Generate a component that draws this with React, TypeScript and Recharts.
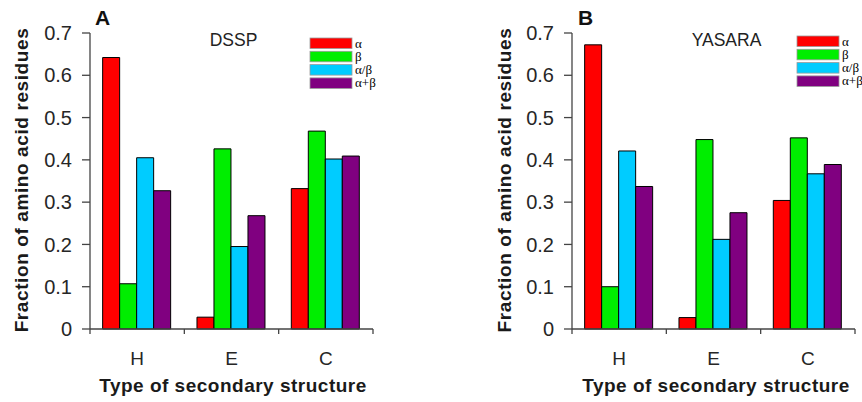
import React from 'react';
import { BarChart, Bar, XAxis, YAxis } from 'recharts';

const categories = ['H', 'E', 'C'];

const dsspAlpha = [0.642, 0.028, 0.332];
const dsspBeta = [0.107, 0.426, 0.468];
const dsspAlphaBeta = [0.405, 0.195, 0.402];
const dsspAlphaPlusBeta = [0.327, 0.268, 0.409];

const yasaraAlpha = [0.672, 0.027, 0.304];
const yasaraBeta = [0.1, 0.448, 0.452];
const yasaraAlphaBeta = [0.421, 0.212, 0.367];
const yasaraAlphaPlusBeta = [0.337, 0.275, 0.389];

const yTicks = [0, 0.1, 0.2, 0.3, 0.4, 0.5, 0.6, 0.7];

const seriesNames = ['α', 'β', 'α/β', 'α+β'];
const seriesKeys = ['alpha', 'beta', 'alphaBeta', 'alphaPlusBeta'];
const seriesColors = ['#ff0000', '#00ee00', '#00ccff', '#800080'];

const FONT = 'Arial, "Liberation Sans", Helvetica, sans-serif';
const AXIS = '#444';

function buildRows(a: number[], b: number[], ab: number[], apb: number[]) {
  return categories.map((cat, i) => ({
    cat,
    alpha: a[i],
    beta: b[i],
    alphaBeta: ab[i],
    alphaPlusBeta: apb[i],
  }));
}

const dsspData = buildRows(dsspAlpha, dsspBeta, dsspAlphaBeta, dsspAlphaPlusBeta);
const yasaraData = buildRows(yasaraAlpha, yasaraBeta, yasaraAlphaBeta, yasaraAlphaPlusBeta);

// category label in the middle, tick marks on the band edges
const CategoryTick = (props: any) => {
  const { x, y, payload, index, visibleTicksCount } = props;
  const half = payload.offset ?? 0;
  return (
    <g>
      <line x1={x - half} x2={x - half} y1={y} y2={y + 5} stroke={AXIS} strokeWidth={1.3} />
      {index === visibleTicksCount - 1 && (
        <line x1={x + half} x2={x + half} y1={y} y2={y + 5} stroke={AXIS} strokeWidth={1.3} />
      )}
      <text x={x} y={y + 36} textAnchor="middle" fontSize={19} fontFamily={FONT} fill="#262626">
        {payload.value}
      </text>
    </g>
  );
};

function Panel({ data, width, margin }: { data: any[]; width: number; margin: any }) {
  return (
    <BarChart
      width={width}
      height={402}
      data={data}
      margin={margin}
      barCategoryGap="13.4%"
      barGap={0}
    >
      <XAxis
        dataKey="cat"
        interval={0}
        height={73}
        tickSize={0}
        tickMargin={0}
        tickLine={false}
        axisLine={{ stroke: AXIS, strokeWidth: 1.3 }}
        tick={<CategoryTick />}
      />
      <YAxis
        width={90}
        domain={[0, 0.7]}
        ticks={yTicks}
        interval={0}
        tickSize={8}
        tickMargin={10}
        axisLine={{ stroke: AXIS, strokeWidth: 1.3 }}
        tickLine={{ stroke: AXIS, strokeWidth: 1.3 }}
        tick={{ fontSize: 20, fontFamily: FONT, fill: '#262626' }}
      />
      {seriesKeys.map((key, i) => (
        <Bar
          key={key}
          dataKey={key}
          fill={seriesColors[i]}
          stroke="#000"
          strokeWidth={1}
          isAnimationActive={false}
        />
      ))}
    </BarChart>
  );
}

function LegendBox({ x, y }: { x: number; y: number }) {
  return (
    <g>
      {seriesNames.map((name, i) => (
        <g key={name}>
          <rect x={x} y={y + i * 13.3} width={42} height={10.5} fill={seriesColors[i]} stroke="#999" strokeWidth={0.8} />
          <text x={x + 45} y={y + i * 13.3 + 9.5} fontSize={13} fontFamily='"Times New Roman", "Liberation Serif", serif' fill="#000">
            {name}
          </text>
        </g>
      ))}
    </g>
  );
}

export default function App() {
  const yLabel = 'Fraction of amino acid residues';
  const xLabel = 'Type of secondary structure';
  return (
    <div style={{ position: 'absolute', left: 0, top: 0, width: 862, height: 402, background: '#fff', fontFamily: FONT }}>
      <div style={{ position: 'absolute', left: 0, top: 0 }}>
        <Panel data={dsspData} width={430} margin={{ top: 33, right: 57, bottom: 0, left: 0 }} />
      </div>
      <div style={{ position: 'absolute', left: 430, top: 0 }}>
        <Panel data={yasaraData} width={432} margin={{ top: 33, right: 7, bottom: 0, left: 52 }} />
      </div>
      <svg width={862} height={402} style={{ position: 'absolute', left: 0, top: 0, pointerEvents: 'none' }}>
        <text x={95} y={25} fontSize={21} fontWeight="bold" fontFamily={FONT} fill="#111">A</text>
        <text x={578} y={25} fontSize={21} fontWeight="bold" fontFamily={FONT} fill="#111">B</text>
        <text x={233.5} y={46} textAnchor="middle" fontSize={17.5} fontFamily={FONT} fill="#222">DSSP</text>
        <text x={726.5} y={46} textAnchor="middle" fontSize={17.5} fontFamily={FONT} fill="#222">YASARA</text>
        <text x={28} y={180} transform="rotate(-90 28 180)" textAnchor="middle" fontSize={19} fontWeight="bold" letterSpacing={0.6} fontFamily={FONT} fill="#1a1a1a">{yLabel}</text>
        <text x={511} y={180} transform="rotate(-90 511 180)" textAnchor="middle" fontSize={19} fontWeight="bold" letterSpacing={0.6} fontFamily={FONT} fill="#1a1a1a">{yLabel}</text>
        <text x={233} y={392} textAnchor="middle" fontSize={19} fontWeight="bold" letterSpacing={0.5} fontFamily={FONT} fill="#1a1a1a">{xLabel}</text>
        <text x={716} y={392} textAnchor="middle" fontSize={19} fontWeight="bold" letterSpacing={0.5} fontFamily={FONT} fill="#1a1a1a">{xLabel}</text>
        <LegendBox x={310} y={38} />
        <LegendBox x={797} y={36} />
      </svg>
    </div>
  );
}
